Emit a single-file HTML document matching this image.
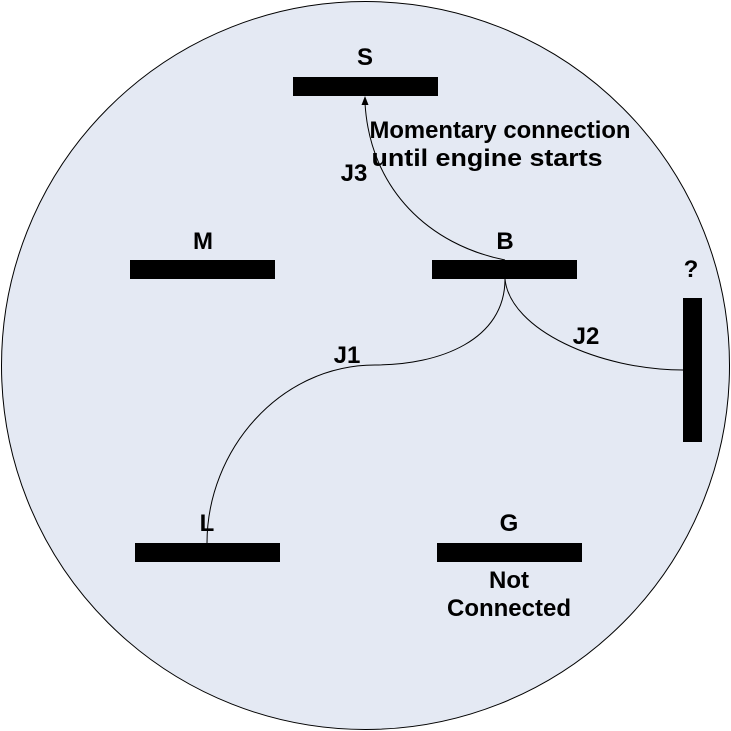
<!DOCTYPE html>
<html><head><style>body{margin:0;background:#fff}text{font-family:"Liberation Sans",Arial,sans-serif;font-weight:bold;font-size:24px}</style></head><body>
<svg width="731" height="731" xmlns="http://www.w3.org/2000/svg" style="display:block">
<circle cx="365.5" cy="365.5" r="364" fill="#e4e9f3" stroke="#000" stroke-width="1"/>
<g fill="#000">
<rect x="293" y="77" width="145" height="19"/>
<rect x="130" y="260" width="145" height="19"/>
<rect x="432" y="260" width="145" height="19"/>
<rect x="135" y="543" width="145" height="19"/>
<rect x="437" y="543" width="145" height="19"/>
<rect x="683" y="298" width="19" height="144"/>
</g>
<g fill="none" stroke="#000" stroke-width="1">
<path d="M505,260 C430,245 370,190 365,103"/>
<path d="M505,279 C505,340 440,365 375,365 C280,365 207,450 207,543"/>
<path d="M505,279 C510,330 600,370 683,370"/>
</g>
<polygon points="365,96 361.5,105 368.5,105" fill="#000"/>
<g fill="#000" text-anchor="middle">
<text x="365" y="65">S</text>
<text x="203" y="249">M</text>
<text x="505" y="249">B</text>
<text x="691" y="277">?</text>
<text x="207" y="531">L</text>
<text x="509" y="531">G</text>
<text x="509" y="588">Not</text>
<text x="509" y="616">Connected</text>
<text x="354" y="181">J3</text>
<text x="347" y="363">J1</text>
<text x="586" y="344">J2</text>
<text x="500" y="138" textLength="261" lengthAdjust="spacingAndGlyphs">Momentary connection</text>
<text x="487" y="166" textLength="231" lengthAdjust="spacingAndGlyphs">until engine starts</text>
</g>
</svg>
</body></html>
